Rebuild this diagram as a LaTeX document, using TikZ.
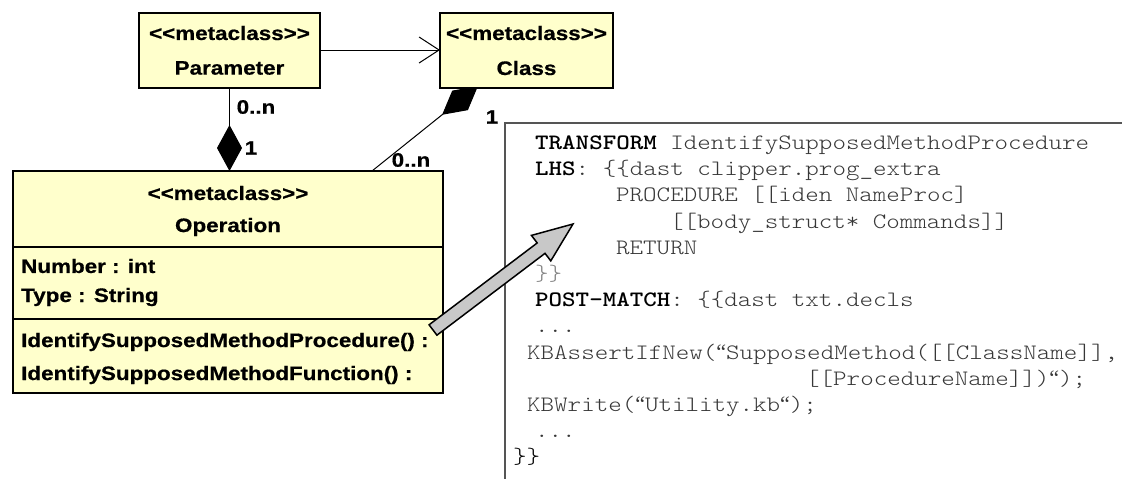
\documentclass[tikz,border=0pt]{standalone}
\usepackage{fontspec}
\setmainfont{Liberation Sans}
\newfontfamily\umlfont{Liberation Sans}[FakeStretch=1.15, BoldFeatures={FakeBold=0.6}]
\newfontfamily\codefont{lmmonolt10}[Extension=.otf, UprightFont=*-regular, BoldFont=*-bold, FakeStretch=1.17]
\newfontfamily\quotefont{Liberation Serif}
\newcommand{\codequote}{{\quotefont “}}
\usetikzlibrary{calc,arrows.meta}
\definecolor{umlyellow}{RGB}{255,255,204}
\definecolor{codegray}{RGB}{55,55,55}
\definecolor{bracegray}{RGB}{130,130,130}
\definecolor{blockgray}{RGB}{200,200,200}
\definecolor{framegray}{RGB}{85,85,85}
\begin{document}
\begin{tikzpicture}[x=1pt,y=-1pt,
  umlbox/.style={draw=black, line width=2.6pt, fill=umlyellow, inner sep=0pt,
    outer sep=0pt, anchor=north west},
  umltext/.style={font=\umlfont\bfseries\fontsize{19.5}{22}\selectfont, inner sep=0pt},
  attr/.style={umltext, anchor=west},
  sepline/.style={draw=black, line width=2.6pt},
  assoc/.style={draw=black, line width=1pt},
  openhead/.style={assoc, -{Straight Barb[length=20pt, width=26pt, line width=1pt]}},
  compo/.style={assoc, -{Diamond[length=46pt, width=25pt, fill=black]}},
  mult/.style={umltext},
  codeline/.style={font=\codefont\fontsize{22}{26}\selectfont, text=codegray,
    inner sep=0pt, anchor=base west},
  codeframe/.style={draw=framegray, line width=1.3pt},
  blockarrow/.style={draw=black, line width=1.5pt, fill=blockgray, line join=miter}
]
\useasboundingbox[fill=white] (0,0) rectangle (1122,479);

% ---- code listing frame (open on the right and at the bottom)
\coordinate (frTR) at (1122,123);
\coordinate (frTL) at (505,123);
\coordinate (frBL) at (505,479);
\draw[codeframe] (frTR) -- (frTL) -- (frBL);

% ---- code listing, one node per line
\def\cw{13.5}
\node[codeline] (c0)  at (535,149.5)            {\textbf{\color{black}TRANSFORM} IdentifySupposedMethodProcedure};
\node[codeline] (c1)  at (535,175.7)            {\textbf{\color{black}LHS}: \{\{dast clipper.prog\_extra};
\node[codeline] (c2)  at (535+6*\cw,201.9)      {PROCEDURE [[iden NameProc]};
\node[codeline] (c3)  at (535+10*\cw,228.1)     {[[body\_struct* Commands]]};
\node[codeline] (c4)  at (535+6*\cw,254.3)      {RETURN};
\node[codeline, text=bracegray] (c5) at (535,280.5) {\}\}};
\node[codeline] (c6)  at (535,306.7)            {\textbf{\color{black}POST-MATCH}: \{\{dast txt.decls};
\node[codeline] (c7)  at (535,332.9)            {...};
\node[codeline] (c8)  at (527,359.1)            {KBAssertIfNew(\codequote SupposedMethod([[ClassName]],};
\node[codeline] (c9)  at (806,385.3)            {[[ProcedureName]])\codequote);};
\node[codeline] (c10) at (527,411.5)            {KBWrite(\codequote Utility.kb\codequote);};
\node[codeline] (c11) at (535,437.7)            {...};
\node[codeline, text=black] (c12) at (513,463.9) {\}\}};

% ---- UML connectors (drawn below the class boxes)
\coordinate (pfoot) at (229.5,88);
\coordinate (ptop)  at (229.5,171);
\draw[compo] (pfoot) -- (ptop);

\coordinate (opfoot)  at (372,171);
\coordinate (clsfoot) at (478,86);
\draw[compo] (opfoot) -- (clsfoot);

\coordinate (pright) at (320,50);
\coordinate (cleft)  at (440,50);
\draw[openhead] (pright) -- (cleft);

% ---- UML classes
\node[umlbox, minimum width=181pt, minimum height=75pt] (param) at (139,13) {};
\node[umltext] (paramst) at (229.5,33) {<{}<metaclass>{}>};
\node[umltext] (paramnm) at (229.5,68) {Parameter};

\node[umlbox, minimum width=173pt, minimum height=75pt] (cls) at (440,13) {};
\node[umltext] (clsst) at (526.5,33) {<{}<metaclass>{}>};
\node[umltext] (clsnm) at (526.5,68) {Class};

\node[umlbox, minimum width=430pt, minimum height=222pt] (op) at (13,171) {};
\coordinate (sepA) at (0,247);
\coordinate (sepB) at (0,319);
\draw[sepline] (op.west |- sepA) -- (op.east |- sepA);
\draw[sepline] (op.west |- sepB) -- (op.east |- sepB);
\node[umltext] (opst) at (228,193) {<{}<metaclass>{}>};
\node[umltext] (opnm) at (228,227) {Operation};
\node[attr] (a1) at (21,266) {Number : int};
\node[attr] (a2) at (21,297) {Type : String};
\node[attr] (m1) at (21,342) {IdentifySupposedMethodProcedure() :};
\node[attr] (m2) at (21,375) {IdentifySupposedMethodFunction() :};

% ---- multiplicities
\node[mult] (mpn) at (256,107) {0..n};
\node[mult] (mp1) at (251,148) {1};
\node[mult] (mc1) at (492,117) {1};
\node[mult] (mcn) at (411,160) {0..n};

% ---- block arrow from the operation to its transformation rule
\coordinate (bt) at (433,330);
\coordinate (bh) at (573,224);
\coordinate (bb) at ($(bh)!40pt!(bt)$);
\draw[blockarrow]
  ($(bt)!6.5pt!90:(bh)$) -- ($(bb)!6.5pt!90:(bh)$) -- ($(bb)!16pt!90:(bh)$) --
  (bh) -- ($(bb)!16pt!-90:(bh)$) -- ($(bb)!6.5pt!-90:(bh)$) --
  ($(bt)!6.5pt!-90:(bh)$) -- cycle;
\end{tikzpicture}
\end{document}
